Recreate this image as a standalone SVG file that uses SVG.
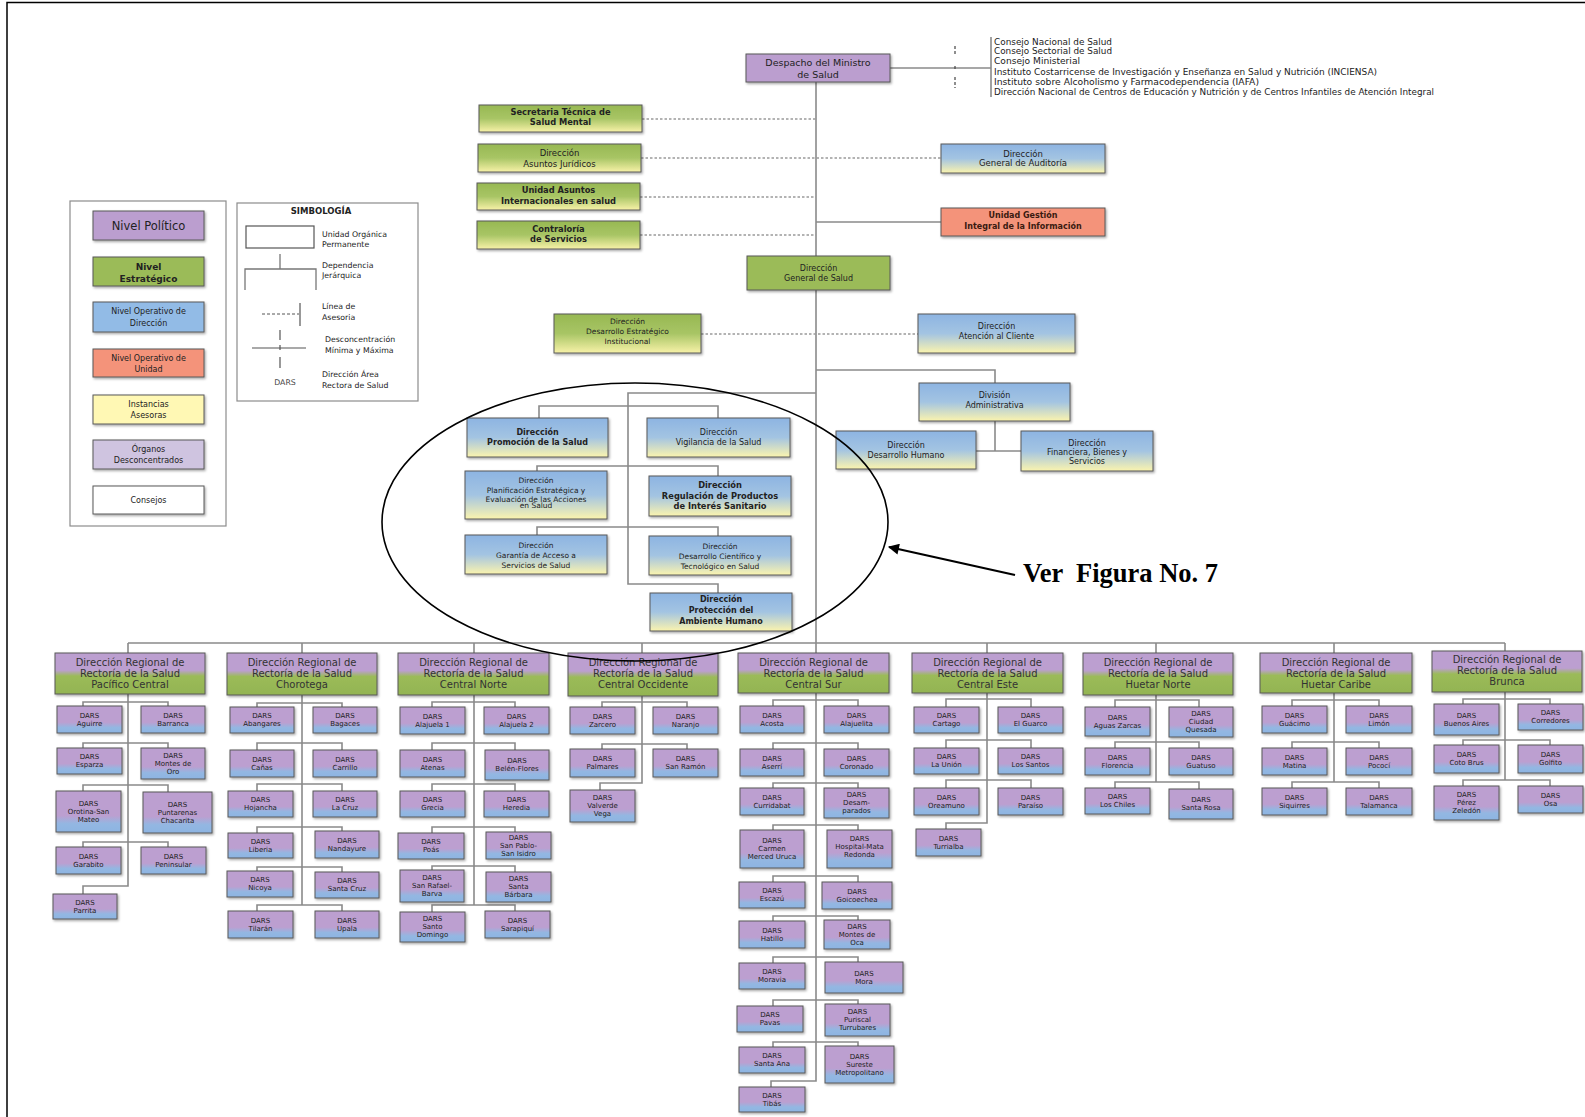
<svg xmlns="http://www.w3.org/2000/svg" width="1585" height="1117" viewBox="0 0 1585 1117">
<defs>
<linearGradient id="gGY" x1="0" y1="0" x2="0" y2="1"><stop offset="0" stop-color="#97B852"/><stop offset="0.5" stop-color="#A8C565"/><stop offset="1" stop-color="#F8F2A8"/></linearGradient>
<linearGradient id="gBY" x1="0" y1="0" x2="0" y2="1"><stop offset="0" stop-color="#8DB4E2"/><stop offset="0.5" stop-color="#A3C4E2"/><stop offset="1" stop-color="#FBF4AE"/></linearGradient>
<linearGradient id="gR" x1="0" y1="0" x2="0" y2="1"><stop offset="0" stop-color="#BC9FD0"/><stop offset="0.42" stop-color="#BC9FD0"/><stop offset="0.56" stop-color="#9BBB59"/><stop offset="1" stop-color="#93B452"/></linearGradient>
<linearGradient id="gD" x1="0" y1="0" x2="0" y2="1"><stop offset="0" stop-color="#BC9FD0"/><stop offset="0.6" stop-color="#BC9FD0"/><stop offset="0.8" stop-color="#93B7E2"/><stop offset="1" stop-color="#8DB4E2"/></linearGradient>
<filter id="sh" x="-10%" y="-10%" width="130%" height="150%"><feDropShadow dx="1.2" dy="1.5" stdDeviation="0.8" flood-color="#000" flood-opacity="0.35"/></filter>
<marker id="ah" viewBox="0 0 10 10" refX="9" refY="5" markerWidth="16" markerHeight="11" markerUnits="userSpaceOnUse" orient="auto"><path d="M0 0 L10 5 L0 10 z" fill="#000"/></marker>
</defs>
<style>
.n{stroke:#595959;stroke-width:1;filter:url(#sh)}
.p{fill:#BB9ECF}.g{fill:#9BBB59}.gy{fill:url(#gGY)}.by{fill:url(#gBY)}.r{fill:url(#gR)}.dr{fill:url(#gD)}.sa{fill:#F4937A}
text{font-family:"DejaVu Sans","Liberation Sans",sans-serif;fill:#222;text-anchor:middle}
.t{font-size:8.5px}.tb{font-size:8.3px;font-weight:bold}.t7{font-size:7.5px}
.dt{font-size:7px}.rt{font-size:10px;fill:#333}
.lg{font-size:8.5px}.cs{font-size:8.5px;text-anchor:start}
.c{stroke:#8a8a8a;stroke-width:1.6;fill:none}
.d{stroke:#9a9a9a;stroke-width:1.4;fill:none;stroke-dasharray:2.5 2}
.k{stroke:#444;stroke-width:1.2;fill:none}
</style>
<rect width="1585" height="1117" fill="#fff"/>
<path d="M7 1117 V2.5 H1585" stroke="#000" stroke-width="1.5" fill="none"/>

<g id="connectors">
<path class="c" d="M816 82 V653"/>
<path class="c" d="M890 68 H991 M991 37 V97"/>
<path class="k" d="M955 46 V56 M955 66 V71 M955 77 V88" stroke-dasharray="3 2"/>
<path class="d" d="M642 119 H816 M641 158 H941 M640 197 H816 M640 235 H816 M701 334 H918"/>
<path class="c" d="M816 222 H941 M816 370 H995 V383 M995 421 V451 M976 451 H1021"/>
<path class="c" d="M816 393 H628 V584 H718 V593 M539 418 V406 H718 V418 M537 472 V466 H718 V476 M537 537 V527 H718 V537"/>
<path class="c" d="M128 643 H1505 M128 643 V653 M302 643 V653 M474 643 V653 M642 643 V653 M987 643 V653 M1156 643 V653 M1334 643 V653 M1505 643 V651"/>
<path class="c" d="M128 694 V886 H83 V894 M83 706 V702 H168 V706 M83 748 V743 H168 V748 M83 791 V785 H168 V792 M83 847 V842 H168 V847"/>
<path class="c" d="M302 695 V905 M257 707 V703 H342 V707 M257 750 V743 H342 V750 M257 791 V784 H342 V791 M257 833 V827 H342 V831 M257 871 V867 H342 V872 M257 911 V905 H342 V911"/>
<path class="c" d="M474 695 V905 M432 707 V702 H515 V707 M432 750 V743 H515 V750 M432 791 V784 H515 V791 M432 833 V827 H515 V832 M432 870 V866 H515 V872 M432 912 V905 H515 V911"/>
<path class="c" d="M642 696 V783 H600 V790 M602 707 V702 H687 V707 M602 749 V744 H687 V749"/>
<path class="c" d="M816 693 V1081 H771 V1087 M773 706 V700 H858 V706 M773 749 V743 H858 V749 M773 788 V783 H858 V788 M773 830 V825 H858 V830 M773 882 V876 H858 V882 M773 921 V916 H858 V920 M773 963 V957 H858 V962 M773 1006 V1000 H858 V1004 M773 1047 V1042 H858 V1046"/>
<path class="c" d="M987 693 V823 H946 V829 M946 707 V699 H1031 V707 M946 748 V740 H1031 V748 M946 788 V780 H1031 V788"/>
<path class="c" d="M1156 695 V782 M1115 707 V700 H1199 V707 M1115 748 V742 H1199 V748 M1115 788 V782 H1199 V789"/>
<path class="c" d="M1334 693 V782 M1292 706 V700 H1379 V706 M1292 748 V742 H1379 V748 M1292 788 V782 H1379 V788"/>
<path class="c" d="M1505 692 V780 M1463 704 V699 H1550 V704 M1463 745 V740 H1550 V745 M1463 786 V780 H1550 V786"/>
</g>

<g id="despacho"><rect class="n p" x="746" y="54" width="144" height="28"/><text style="font-size:9.5px" x="818" y="66">Despacho del Ministro<tspan x="818" dy="12">de Salud</tspan></text></g>
<g id="consejos">
<text class="cs" x="994" y="44.5" textLength="118" lengthAdjust="spacingAndGlyphs">Consejo Nacional de Salud</text>
<text class="cs" x="994" y="54" textLength="118" lengthAdjust="spacingAndGlyphs">Consejo Sectorial de Salud</text>
<text class="cs" x="994" y="64" textLength="86" lengthAdjust="spacingAndGlyphs">Consejo Ministerial</text>
<text class="cs" x="994" y="74.5" textLength="383" lengthAdjust="spacingAndGlyphs">Instituto Costarricense de Investigación y Enseñanza en Salud y Nutrición (INCIENSA)</text>
<text class="cs" x="994" y="84.5" textLength="265" lengthAdjust="spacingAndGlyphs">Instituto sobre Alcoholismo y Farmacodependencia (IAFA)</text>
<text class="cs" x="994" y="94.5" textLength="440" lengthAdjust="spacingAndGlyphs">Dirección Nacional de Centros de Educación y Nutrición y de Centros Infantiles de Atención Integral</text>
</g>
<g id="secretaria"><rect class="n gy" x="479" y="105" width="163" height="27"/><text class="tb" x="560.5" y="115">Secretaria Técnica de<tspan x="560.5" dy="10">Salud Mental</tspan></text></g>
<g id="juridicos"><rect class="n gy" x="478" y="144" width="163" height="28"/><text class="t" x="559.5" y="156">Dirección<tspan x="559.5" dy="10.5">Asuntos  Jurídicos</tspan></text></g>
<g id="internacionales"><rect class="n gy" x="477" y="183" width="163" height="27"/><text class="tb" x="558.5" y="193">Unidad Asuntos<tspan x="558.5" dy="10.5">Internacionales en salud</tspan></text></g>
<g id="contraloria"><rect class="n gy" x="477" y="221" width="163" height="28"/><text class="tb" x="558.5" y="231.5">Contraloría<tspan x="558.5" dy="10">de Servicios</tspan></text></g>
<g id="auditoria"><rect class="n by" x="941" y="144" width="164" height="29"/><text class="t" x="1023" y="156.5">Dirección<tspan x="1023" dy="9.5">General de Auditoría</tspan></text></g>
<g id="gestion"><rect class="n sa" x="941" y="208" width="164" height="28"/><text class="tb" style="font-size:8px;fill:#3a1a10" x="1023" y="217.5">Unidad Gestión<tspan x="1023" dy="11">Integral de la Información</tspan></text></g>
<g id="dg-salud"><rect class="n g" x="747" y="256" width="143" height="34"/><text class="t" style="font-size:8px" x="818.5" y="271">Dirección<tspan x="818.5" dy="9.5">General de Salud</tspan></text></g>
<g id="desarrollo-estrategico"><rect class="n gy" x="554" y="314" width="147" height="39"/><text class="t7" x="627.5" y="324">Dirección<tspan x="627.5" dy="10">Desarrollo Estratégico</tspan><tspan x="627.5" dy="10">Institucional</tspan></text></g>
<g id="atencion-cliente"><rect class="n by" x="918" y="314" width="157" height="39"/><text class="t" style="font-size:8px" x="996.5" y="329">Dirección<tspan x="996.5" dy="10">Atención al Cliente</tspan></text></g>
<g id="division-administrativa"><rect class="n by" x="919" y="383" width="151" height="38"/><text class="t" style="font-size:8px" x="994.5" y="398">División<tspan x="994.5" dy="10">Administrativa</tspan></text></g>
<g id="desarrollo-humano"><rect class="n by" x="836" y="431" width="140" height="38"/><text class="t" style="font-size:8px" x="906" y="448">Dirección<tspan x="906" dy="10">Desarrollo Humano</tspan></text></g>
<g id="financiera"><rect class="n by" x="1021" y="431" width="132" height="40"/><text class="t" style="font-size:8px" x="1087" y="446">Dirección<tspan x="1087" dy="9">Financiera, Bienes y</tspan><tspan x="1087" dy="9">Servicios</tspan></text></g>
<g id="promocion"><rect class="n by" x="467" y="418" width="141" height="39"/><text class="tb" style="font-size:8px" x="537.5" y="435">Dirección<tspan x="537.5" dy="9.5">Promoción de la Salud</tspan></text></g>
<g id="vigilancia"><rect class="n by" x="647" y="418" width="143" height="39"/><text class="t" style="font-size:8px" x="718.5" y="435">Dirección<tspan x="718.5" dy="10">Vigilancia de la Salud</tspan></text></g>
<g id="planificacion"><rect class="n by" x="465" y="471" width="142" height="48"/><text class="t7" x="536" y="483">Dirección<tspan x="536" dy="9.5">Planificación Estratégica y</tspan><tspan x="536" dy="9">Evaluación de  las Acciones</tspan><tspan x="536" dy="6.5">en Salud</tspan></text></g>
<g id="regulacion"><rect class="n by" x="649" y="476" width="142" height="40"/><text class="tb" style="font-size:8.3px" x="720" y="488">Dirección<tspan x="720" dy="10.5">Regulación de Productos</tspan><tspan x="720" dy="10.5">de Interés Sanitario</tspan></text></g>
<g id="garantia"><rect class="n by" x="465" y="535" width="142" height="39"/><text class="t7" x="536" y="548">Dirección<tspan x="536" dy="10">Garantía de Acceso a</tspan><tspan x="536" dy="10">Servicios de Salud</tspan></text></g>
<g id="cientifico"><rect class="n by" x="649" y="536" width="142" height="39"/><text class="t7" x="720" y="548.5">Dirección<tspan x="720" dy="10">Desarrollo Científico y</tspan><tspan x="720" dy="10">Tecnológico en Salud</tspan></text></g>
<g id="proteccion"><rect class="n by" x="650" y="593" width="142" height="38"/><text class="tb" style="font-size:8px" x="721" y="601.5">Dirección<tspan x="721" dy="11">Protección del</tspan><tspan x="721" dy="11">Ambiente Humano</tspan></text></g>

<g id="legend-niveles">
<rect x="70" y="201" width="156" height="325" fill="#fff" stroke="#8c8c8c" stroke-width="1.2"/>
<g id="lg-politico"><rect class="n p" x="93" y="211" width="111" height="29"/><text style="font-size:11.5px" x="148.5" y="229.5">Nivel Político</text></g>
<g id="lg-estrategico"><rect class="n g" x="93" y="257" width="111" height="29"/><text style="font-size:9px;font-weight:bold" x="148.5" y="269.5">Nivel<tspan x="148.5" dy="12">Estratégico</tspan></text></g>
<g id="lg-op-direccion"><rect class="n" fill="#92BBE6" x="93" y="302" width="111" height="30"/><text class="lg" style="font-size:8px" x="148.5" y="314">Nivel Operativo de<tspan x="148.5" dy="11.5">Dirección</tspan></text></g>
<g id="lg-op-unidad"><rect class="n sa" x="93" y="349" width="111" height="28"/><text class="lg" style="font-size:8px" x="148.5" y="361">Nivel Operativo de<tspan x="148.5" dy="10.5">Unidad</tspan></text></g>
<g id="lg-asesoras"><rect class="n" fill="#FFF8B4" stroke="#E8CC7A" x="93" y="395" width="111" height="29"/><text class="lg" style="font-size:8px" x="148.5" y="406.5">Instancias<tspan x="148.5" dy="11">Asesoras</tspan></text></g>
<g id="lg-desconcentrados"><rect class="n" fill="#CFC4E0" x="93" y="440" width="111" height="29"/><text class="lg" style="font-size:8px" x="148.5" y="452">Órganos<tspan x="148.5" dy="11">Desconcentrados</tspan></text></g>
<g id="lg-consejos"><rect class="n" fill="#fff" x="93" y="486" width="111" height="28"/><text class="lg" style="font-size:8px" x="148.5" y="503">Consejos</text></g>
</g>

<g id="legend-simbologia">
<rect x="237" y="203" width="181" height="198" fill="#fff" stroke="#8c8c8c" stroke-width="1.2"/>
<text style="font-size:8.5px;font-weight:bold" x="321" y="214">SIMBOLOGÍA</text>
<rect x="246" y="226" width="68" height="22" fill="#fff" stroke="#555" stroke-width="1.2"/>
<text class="cs" style="font-size:7.8px" x="322" y="237">Unidad Orgánica<tspan x="322" dy="10">Permanente</tspan></text>
<path d="M280 254 V269 M245 290 V269 H316 V290" stroke="#777" stroke-width="1.3" fill="none"/>
<text class="cs" style="font-size:7.8px" x="322" y="268">Dependencia<tspan x="322" dy="10">Jerárquica</tspan></text>
<path d="M262 314 H299" stroke="#555" stroke-width="1" stroke-dasharray="3 2" fill="none"/>
<path d="M300 303 V326" stroke="#555" stroke-width="1.2" fill="none"/>
<text class="cs" style="font-size:7.8px" x="322" y="309">Línea de<tspan x="322" dy="10.5">Asesoria</tspan></text>
<path d="M280 330 V340 M280 345 V350 M280 357 V368" stroke="#555" stroke-width="1.2" fill="none"/>
<path d="M252 348 H306" stroke="#555" stroke-width="1.2" fill="none"/>
<text class="cs" style="font-size:7.8px" x="325" y="342">Desconcentración<tspan x="325" dy="11">Mínima y Máxima</tspan></text>
<text style="font-size:7.8px;fill:#444" x="285" y="385">DARS</text>
<text class="cs" style="font-size:7.8px" x="322" y="377">Dirección Área<tspan x="322" dy="11">Rectora de Salud</tspan></text>
</g>

<g id="reg-pacifico-central"><rect class="n r" x="55" y="653" width="150" height="41"/><text class="rt" x="130" y="666">Dirección Regional de<tspan x="130" dy="11">Rectoría de la Salud</tspan><tspan x="130" dy="11">Pacífico Central</tspan></text></g>
<g id="reg-chorotega"><rect class="n r" x="227" y="653" width="150" height="42"/><text class="rt" x="302" y="666">Dirección Regional de<tspan x="302" dy="11">Rectoría de la Salud</tspan><tspan x="302" dy="11">Chorotega</tspan></text></g>
<g id="reg-central-norte"><rect class="n r" x="398" y="653" width="151" height="42"/><text class="rt" x="473.5" y="666">Dirección Regional de<tspan x="473.5" dy="11">Rectoría de la Salud</tspan><tspan x="473.5" dy="11">Central Norte</tspan></text></g>
<g id="reg-central-occidente"><rect class="n r" x="568" y="653" width="150" height="43"/><text class="rt" x="643" y="666">Dirección Regional de<tspan x="643" dy="11">Rectoría de la Salud</tspan><tspan x="643" dy="11">Central Occidente</tspan></text></g>
<g id="reg-central-sur"><rect class="n r" x="738" y="653" width="151" height="40"/><text class="rt" x="813.5" y="666">Dirección Regional de<tspan x="813.5" dy="11">Rectoría de la Salud</tspan><tspan x="813.5" dy="11">Central Sur</tspan></text></g>
<g id="reg-central-este"><rect class="n r" x="912" y="653" width="151" height="40"/><text class="rt" x="987.5" y="666">Dirección Regional de<tspan x="987.5" dy="11">Rectoría de la Salud</tspan><tspan x="987.5" dy="11">Central Este</tspan></text></g>
<g id="reg-huetar-norte"><rect class="n r" x="1083" y="653" width="150" height="42"/><text class="rt" x="1158" y="666">Dirección Regional de<tspan x="1158" dy="11">Rectoría de la Salud</tspan><tspan x="1158" dy="11">Huetar Norte</tspan></text></g>
<g id="reg-huetar-caribe"><rect class="n r" x="1260" y="653" width="152" height="40"/><text class="rt" x="1336" y="666">Dirección Regional de<tspan x="1336" dy="11">Rectoría de la Salud</tspan><tspan x="1336" dy="11">Huetar Caribe</tspan></text></g>
<g id="reg-brunca"><rect class="n r" x="1432" y="651" width="150" height="41"/><text class="rt" x="1507" y="663">Dirección Regional de<tspan x="1507" dy="11">Rectoría de la Salud</tspan><tspan x="1507" dy="11">Brunca</tspan></text></g>

<g id="d-aguirre"><rect class="n dr" x="57" y="706" width="65" height="27"/><text class="dt" x="89.5" y="717.5">DARS<tspan x="89.5" dy="8">Aguirre</tspan></text></g>
<g id="d-barranca"><rect class="n dr" x="141" y="706" width="64" height="27"/><text class="dt" x="173" y="717.5">DARS<tspan x="173" dy="8">Barranca</tspan></text></g>
<g id="d-esparza"><rect class="n dr" x="57" y="748" width="65" height="26"/><text class="dt" x="89.5" y="759">DARS<tspan x="89.5" dy="8">Esparza</tspan></text></g>
<g id="d-montes-de-oro"><rect class="n dr" x="141" y="748" width="64" height="31"/><text class="dt" x="173" y="757.5">DARS<tspan x="173" dy="8">Montes de</tspan><tspan x="173" dy="8">Oro</tspan></text></g>
<g id="d-orotina"><rect class="n dr" x="56" y="791" width="65" height="41"/><text class="dt" x="88.5" y="805.5">DARS<tspan x="88.5" dy="8">Orotina-San</tspan><tspan x="88.5" dy="8">Mateo</tspan></text></g>
<g id="d-puntarenas"><rect class="n dr" x="143" y="792" width="69" height="41"/><text class="dt" x="177.5" y="806.5">DARS<tspan x="177.5" dy="8">Puntarenas</tspan><tspan x="177.5" dy="8">Chacarita</tspan></text></g>
<g id="d-garabito"><rect class="n dr" x="56" y="847" width="65" height="27"/><text class="dt" x="88.5" y="858.5">DARS<tspan x="88.5" dy="8">Garabito</tspan></text></g>
<g id="d-peninsular"><rect class="n dr" x="141" y="847" width="65" height="27"/><text class="dt" x="173.5" y="858.5">DARS<tspan x="173.5" dy="8">Peninsular</tspan></text></g>
<g id="d-parrita"><rect class="n dr" x="53" y="894" width="64" height="25"/><text class="dt" x="85" y="904.5">DARS<tspan x="85" dy="8">Parrita</tspan></text></g>

<g id="d-abangares"><rect class="n dr" x="230" y="707" width="64" height="26"/><text class="dt" x="262" y="718">DARS<tspan x="262" dy="8">Abangares</tspan></text></g>
<g id="d-bagaces"><rect class="n dr" x="313" y="707" width="64" height="26"/><text class="dt" x="345" y="718">DARS<tspan x="345" dy="8">Bagaces</tspan></text></g>
<g id="d-canas"><rect class="n dr" x="230" y="750" width="64" height="27"/><text class="dt" x="262" y="761.5">DARS<tspan x="262" dy="8">Cañas</tspan></text></g>
<g id="d-carrillo"><rect class="n dr" x="313" y="750" width="64" height="27"/><text class="dt" x="345" y="761.5">DARS<tspan x="345" dy="8">Carrillo</tspan></text></g>
<g id="d-hojancha"><rect class="n dr" x="228" y="791" width="65" height="26"/><text class="dt" x="260.5" y="802">DARS<tspan x="260.5" dy="8">Hojancha</tspan></text></g>
<g id="d-la-cruz"><rect class="n dr" x="313" y="791" width="64" height="26"/><text class="dt" x="345" y="802">DARS<tspan x="345" dy="8">La Cruz</tspan></text></g>
<g id="d-liberia"><rect class="n dr" x="228" y="833" width="65" height="25"/><text class="dt" x="260.5" y="843.5">DARS<tspan x="260.5" dy="8">Liberia</tspan></text></g>
<g id="d-nandayure"><rect class="n dr" x="315" y="831" width="64" height="27"/><text class="dt" x="347" y="842.5">DARS<tspan x="347" dy="8">Nandayure</tspan></text></g>
<g id="d-nicoya"><rect class="n dr" x="227" y="871" width="66" height="26"/><text class="dt" x="260" y="882">DARS<tspan x="260" dy="8">Nicoya</tspan></text></g>
<g id="d-santa-cruz"><rect class="n dr" x="315" y="872" width="64" height="26"/><text class="dt" x="347" y="883">DARS<tspan x="347" dy="8">Santa Cruz</tspan></text></g>
<g id="d-tilaran"><rect class="n dr" x="228" y="911" width="65" height="27"/><text class="dt" x="260.5" y="922.5">DARS<tspan x="260.5" dy="8">Tilarán</tspan></text></g>
<g id="d-upala"><rect class="n dr" x="315" y="911" width="64" height="27"/><text class="dt" x="347" y="922.5">DARS<tspan x="347" dy="8">Upala</tspan></text></g>

<g id="d-alajuela-1"><rect class="n dr" x="400" y="707" width="65" height="27"/><text class="dt" x="432.5" y="718.5">DARS<tspan x="432.5" dy="8">Alajuela 1</tspan></text></g>
<g id="d-alajuela-2"><rect class="n dr" x="484" y="707" width="65" height="27"/><text class="dt" x="516.5" y="718.5">DARS<tspan x="516.5" dy="8">Alajuela 2</tspan></text></g>
<g id="d-atenas"><rect class="n dr" x="400" y="750" width="65" height="27"/><text class="dt" x="432.5" y="761.5">DARS<tspan x="432.5" dy="8">Atenas</tspan></text></g>
<g id="d-belen-flores"><rect class="n dr" x="485" y="750" width="64" height="30"/><text class="dt" x="517" y="763">DARS<tspan x="517" dy="8">Belén-Flores</tspan></text></g>
<g id="d-grecia"><rect class="n dr" x="400" y="791" width="65" height="26"/><text class="dt" x="432.5" y="802">DARS<tspan x="432.5" dy="8">Grecia</tspan></text></g>
<g id="d-heredia"><rect class="n dr" x="484" y="791" width="65" height="26"/><text class="dt" x="516.5" y="802">DARS<tspan x="516.5" dy="8">Heredia</tspan></text></g>
<g id="d-poas"><rect class="n dr" x="398" y="833" width="66" height="26"/><text class="dt" x="431" y="844">DARS<tspan x="431" dy="8">Poás</tspan></text></g>
<g id="d-san-pablo"><rect class="n dr" x="486" y="832" width="65" height="27"/><text class="dt" x="518.5" y="839.5">DARS<tspan x="518.5" dy="8">San Pablo-</tspan><tspan x="518.5" dy="8">San Isidro</tspan></text></g>
<g id="d-san-rafael"><rect class="n dr" x="400" y="870" width="64" height="32"/><text class="dt" x="432" y="880">DARS<tspan x="432" dy="8">San Rafael-</tspan><tspan x="432" dy="8">Barva</tspan></text></g>
<g id="d-santa-barbara"><rect class="n dr" x="486" y="872" width="65" height="30"/><text class="dt" x="518.5" y="881">DARS<tspan x="518.5" dy="8">Santa</tspan><tspan x="518.5" dy="8">Bárbara</tspan></text></g>
<g id="d-santo-domingo"><rect class="n dr" x="400" y="912" width="65" height="30"/><text class="dt" x="432.5" y="921">DARS<tspan x="432.5" dy="8">Santo</tspan><tspan x="432.5" dy="8">Domingo</tspan></text></g>
<g id="d-sarapiqui"><rect class="n dr" x="485" y="911" width="65" height="27"/><text class="dt" x="517.5" y="922.5">DARS<tspan x="517.5" dy="8">Sarapiquí</tspan></text></g>

<g id="d-zarcero"><rect class="n dr" x="570" y="707" width="65" height="27"/><text class="dt" x="602.5" y="718.5">DARS<tspan x="602.5" dy="8">Zarcero</tspan></text></g>
<g id="d-naranjo"><rect class="n dr" x="653" y="707" width="65" height="27"/><text class="dt" x="685.5" y="718.5">DARS<tspan x="685.5" dy="8">Naranjo</tspan></text></g>
<g id="d-palmares"><rect class="n dr" x="570" y="749" width="65" height="28"/><text class="dt" x="602.5" y="761">DARS<tspan x="602.5" dy="8">Palmares</tspan></text></g>
<g id="d-san-ramon"><rect class="n dr" x="653" y="749" width="65" height="28"/><text class="dt" x="685.5" y="761">DARS<tspan x="685.5" dy="8">San Ramón</tspan></text></g>
<g id="d-valverde-vega"><rect class="n dr" x="570" y="790" width="65" height="32"/><text class="dt" x="602.5" y="800">DARS<tspan x="602.5" dy="8">Valverde</tspan><tspan x="602.5" dy="8">Vega</tspan></text></g>

<g id="d-acosta"><rect class="n dr" x="740" y="706" width="64" height="27"/><text class="dt" x="772" y="717.5">DARS<tspan x="772" dy="8">Acosta</tspan></text></g>
<g id="d-alajuelita"><rect class="n dr" x="824" y="706" width="65" height="27"/><text class="dt" x="856.5" y="717.5">DARS<tspan x="856.5" dy="8">Alajuelita</tspan></text></g>
<g id="d-aserri"><rect class="n dr" x="740" y="749" width="64" height="27"/><text class="dt" x="772" y="760.5">DARS<tspan x="772" dy="8">Aserrí</tspan></text></g>
<g id="d-coronado"><rect class="n dr" x="824" y="749" width="65" height="27"/><text class="dt" x="856.5" y="760.5">DARS<tspan x="856.5" dy="8">Coronado</tspan></text></g>
<g id="d-curridabat"><rect class="n dr" x="740" y="788" width="64" height="27"/><text class="dt" x="772" y="799.5">DARS<tspan x="772" dy="8">Curridabat</tspan></text></g>
<g id="d-desamparados"><rect class="n dr" x="824" y="788" width="65" height="30"/><text class="dt" x="856.5" y="797">DARS<tspan x="856.5" dy="8">Desam-</tspan><tspan x="856.5" dy="8">parados</tspan></text></g>
<g id="d-carmen"><rect class="n dr" x="740" y="830" width="64" height="38"/><text class="dt" x="772" y="843">DARS<tspan x="772" dy="8">Carmen</tspan><tspan x="772" dy="8">Merced Uruca</tspan></text></g>
<g id="d-hospital"><rect class="n dr" x="827" y="830" width="65" height="38"/><text class="dt" x="859.5" y="841">DARS<tspan x="859.5" dy="8">Hospital-Mata</tspan><tspan x="859.5" dy="8">Redonda</tspan></text></g>
<g id="d-escazu"><rect class="n dr" x="739" y="882" width="66" height="26"/><text class="dt" x="772" y="893">DARS<tspan x="772" dy="8">Escazú</tspan></text></g>
<g id="d-goicoechea"><rect class="n dr" x="822" y="882" width="70" height="27"/><text class="dt" x="857" y="893.5">DARS<tspan x="857" dy="8">Goicoechea</tspan></text></g>
<g id="d-hatillo"><rect class="n dr" x="739" y="921" width="66" height="27"/><text class="dt" x="772" y="932.5">DARS<tspan x="772" dy="8">Hatillo</tspan></text></g>
<g id="d-montes-de-oca"><rect class="n dr" x="824" y="920" width="66" height="29"/><text class="dt" x="857" y="928.5">DARS<tspan x="857" dy="8">Montes de</tspan><tspan x="857" dy="8">Oca</tspan></text></g>
<g id="d-moravia"><rect class="n dr" x="739" y="963" width="66" height="26"/><text class="dt" x="772" y="974">DARS<tspan x="772" dy="8">Moravia</tspan></text></g>
<g id="d-mora"><rect class="n dr" x="825" y="962" width="78" height="31"/><text class="dt" x="864" y="975.5">DARS<tspan x="864" dy="8">Mora</tspan></text></g>
<g id="d-pavas"><rect class="n dr" x="737" y="1006" width="66" height="26"/><text class="dt" x="770" y="1017">DARS<tspan x="770" dy="8">Pavas</tspan></text></g>
<g id="d-puriscal"><rect class="n dr" x="825" y="1004" width="65" height="32"/><text class="dt" x="857.5" y="1014">DARS<tspan x="857.5" dy="8">Puriscal</tspan><tspan x="857.5" dy="8">Turrubares</tspan></text></g>
<g id="d-santa-ana"><rect class="n dr" x="739" y="1047" width="66" height="26"/><text class="dt" x="772" y="1058">DARS<tspan x="772" dy="8">Santa Ana</tspan></text></g>
<g id="d-sureste"><rect class="n dr" x="825" y="1046" width="69" height="37"/><text class="dt" x="859.5" y="1058.5">DARS<tspan x="859.5" dy="8">Sureste</tspan><tspan x="859.5" dy="8">Metropolitano</tspan></text></g>
<g id="d-tibas"><rect class="n dr" x="739" y="1087" width="66" height="25"/><text class="dt" x="772" y="1097.5">DARS<tspan x="772" dy="8">Tibás</tspan></text></g>

<g id="d-cartago"><rect class="n dr" x="914" y="707" width="65" height="26"/><text class="dt" x="946.5" y="718">DARS<tspan x="946.5" dy="8">Cartago</tspan></text></g>
<g id="d-el-guarco"><rect class="n dr" x="998" y="707" width="65" height="26"/><text class="dt" x="1030.5" y="718">DARS<tspan x="1030.5" dy="8">El Guarco</tspan></text></g>
<g id="d-la-union"><rect class="n dr" x="914" y="748" width="65" height="26"/><text class="dt" x="946.5" y="759">DARS<tspan x="946.5" dy="8">La Unión</tspan></text></g>
<g id="d-los-santos"><rect class="n dr" x="998" y="748" width="65" height="26"/><text class="dt" x="1030.5" y="759">DARS<tspan x="1030.5" dy="8">Los Santos</tspan></text></g>
<g id="d-oreamuno"><rect class="n dr" x="914" y="788" width="65" height="27"/><text class="dt" x="946.5" y="799.5">DARS<tspan x="946.5" dy="8">Oreamuno</tspan></text></g>
<g id="d-paraiso"><rect class="n dr" x="998" y="788" width="65" height="27"/><text class="dt" x="1030.5" y="799.5">DARS<tspan x="1030.5" dy="8">Paraíso</tspan></text></g>
<g id="d-turrialba"><rect class="n dr" x="916" y="829" width="65" height="27"/><text class="dt" x="948.5" y="840.5">DARS<tspan x="948.5" dy="8">Turrialba</tspan></text></g>

<g id="d-aguas-zarcas"><rect class="n dr" x="1085" y="707" width="65" height="29"/><text class="dt" x="1117.5" y="719.5">DARS<tspan x="1117.5" dy="8">Aguas Zarcas</tspan></text></g>
<g id="d-ciudad-quesada"><rect class="n dr" x="1169" y="707" width="64" height="30"/><text class="dt" x="1201" y="716">DARS<tspan x="1201" dy="8">Ciudad</tspan><tspan x="1201" dy="8">Quesada</tspan></text></g>
<g id="d-florencia"><rect class="n dr" x="1085" y="748" width="65" height="27"/><text class="dt" x="1117.5" y="759.5">DARS<tspan x="1117.5" dy="8">Florencia</tspan></text></g>
<g id="d-guatuso"><rect class="n dr" x="1169" y="748" width="64" height="27"/><text class="dt" x="1201" y="759.5">DARS<tspan x="1201" dy="8">Guatuso</tspan></text></g>
<g id="d-los-chiles"><rect class="n dr" x="1085" y="788" width="65" height="26"/><text class="dt" x="1117.5" y="799">DARS<tspan x="1117.5" dy="8">Los Chiles</tspan></text></g>
<g id="d-santa-rosa"><rect class="n dr" x="1169" y="789" width="64" height="30"/><text class="dt" x="1201" y="802">DARS<tspan x="1201" dy="8">Santa Rosa</tspan></text></g>

<g id="d-guacimo"><rect class="n dr" x="1262" y="706" width="65" height="27"/><text class="dt" x="1294.5" y="717.5">DARS<tspan x="1294.5" dy="8">Guácimo</tspan></text></g>
<g id="d-limon"><rect class="n dr" x="1346" y="706" width="66" height="27"/><text class="dt" x="1379" y="717.5">DARS<tspan x="1379" dy="8">Limón</tspan></text></g>
<g id="d-matina"><rect class="n dr" x="1262" y="748" width="65" height="27"/><text class="dt" x="1294.5" y="759.5">DARS<tspan x="1294.5" dy="8">Matina</tspan></text></g>
<g id="d-pococi"><rect class="n dr" x="1346" y="748" width="66" height="27"/><text class="dt" x="1379" y="759.5">DARS<tspan x="1379" dy="8">Pococí</tspan></text></g>
<g id="d-siquirres"><rect class="n dr" x="1262" y="788" width="65" height="27"/><text class="dt" x="1294.5" y="799.5">DARS<tspan x="1294.5" dy="8">Siquirres</tspan></text></g>
<g id="d-talamanca"><rect class="n dr" x="1346" y="788" width="66" height="27"/><text class="dt" x="1379" y="799.5">DARS<tspan x="1379" dy="8">Talamanca</tspan></text></g>

<g id="d-buenos-aires"><rect class="n dr" x="1434" y="704" width="65" height="31"/><text class="dt" x="1466.5" y="717.5">DARS<tspan x="1466.5" dy="8">Buenos Aires</tspan></text></g>
<g id="d-corredores"><rect class="n dr" x="1518" y="704" width="65" height="26"/><text class="dt" x="1550.5" y="715">DARS<tspan x="1550.5" dy="8">Corredores</tspan></text></g>
<g id="d-coto-brus"><rect class="n dr" x="1434" y="745" width="65" height="28"/><text class="dt" x="1466.5" y="757">DARS<tspan x="1466.5" dy="8">Coto Brus</tspan></text></g>
<g id="d-golfito"><rect class="n dr" x="1518" y="745" width="65" height="28"/><text class="dt" x="1550.5" y="757">DARS<tspan x="1550.5" dy="8">Golfito</tspan></text></g>
<g id="d-perez-zeledon"><rect class="n dr" x="1434" y="786" width="65" height="34"/><text class="dt" x="1466.5" y="797">DARS<tspan x="1466.5" dy="8">Pérez</tspan><tspan x="1466.5" dy="8">Zeledón</tspan></text></g>
<g id="d-osa"><rect class="n dr" x="1518" y="786" width="65" height="27"/><text class="dt" x="1550.5" y="797.5">DARS<tspan x="1550.5" dy="8">Osa</tspan></text></g>

<g id="callout">
<ellipse cx="635" cy="522" rx="253" ry="139" fill="none" stroke="#000" stroke-width="1.6"/>
<path d="M1015 575 L889 547" stroke="#000" stroke-width="2.2" fill="none" marker-end="url(#ah)"/>
<text xml:space="preserve" style="font-family:'Liberation Serif','Times New Roman',serif;font-size:26.5px;font-weight:bold;fill:#000;text-anchor:start" x="1023" y="582">Ver  Figura No. 7</text>
</g>
</svg>
